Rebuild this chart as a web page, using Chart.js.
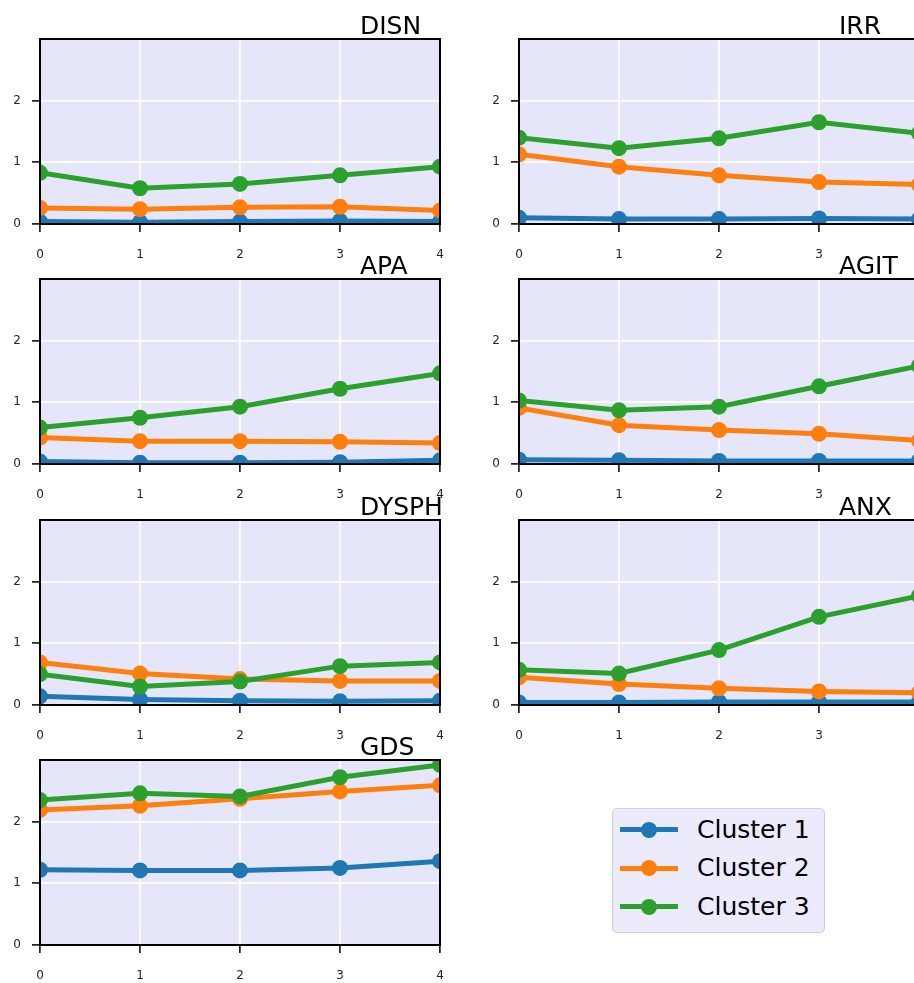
<!DOCTYPE html>
<html>
<head>
<meta charset="utf-8">
<script src="https://cdn.jsdelivr.net/npm/chart.js@4.4.1/dist/chart.umd.min.js"></script>
<style>
html,body{margin:0;padding:0;background:#fff;overflow:hidden;width:914px;height:983px;position:relative;}
canvas.panel{position:absolute;}
#legend{position:absolute;left:612px;top:808px;width:211px;height:123px;background:rgba(230,230,250,0.8);border:1.5px solid #d0d0d0;border-radius:5px;font-family:'DejaVu Sans',sans-serif;font-size:25px;color:#000;}
.item{position:absolute;left:7px;height:30px;display:flex;align-items:center;white-space:nowrap;}
.sw{position:relative;width:58px;height:5px;}
.dot{position:absolute;left:21px;top:-5.5px;width:16px;height:16px;border-radius:50%;}
.lbl{margin-left:19px;line-height:30px;}
</style>
</head>
<body>
<div id="legend"></div>
<script>
// ---- data ----
const xLabels = ['0', '1', '2', '3', '4'];
const yTickValues = [0, 1, 2];
const seriesNames = ['Cluster 1', 'Cluster 2', 'Cluster 3'];
const panelTitles = ['DISN', 'IRR', 'APA', 'AGIT', 'DYSPH', 'ANX', 'GDS'];

const DISN  = [[0.04, 0.03, 0.04, 0.05, 0.04], [0.26, 0.24, 0.27, 0.28, 0.22], [0.83, 0.58, 0.65, 0.79, 0.93]];
const IRR   = [[0.10, 0.08, 0.08, 0.09, 0.08], [1.13, 0.93, 0.79, 0.68, 0.64], [1.40, 1.23, 1.39, 1.65, 1.47]];
const APA   = [[0.04, 0.02, 0.02, 0.03, 0.06], [0.43, 0.37, 0.37, 0.36, 0.34], [0.59, 0.75, 0.93, 1.22, 1.47]];
const AGIT  = [[0.07, 0.06, 0.05, 0.05, 0.05], [0.91, 0.63, 0.55, 0.49, 0.38], [1.03, 0.87, 0.93, 1.26, 1.59]];
const DYSPH = [[0.14, 0.09, 0.07, 0.06, 0.07], [0.69, 0.51, 0.42, 0.39, 0.39], [0.50, 0.30, 0.38, 0.63, 0.69]];
const ANX   = [[0.04, 0.04, 0.05, 0.05, 0.05], [0.45, 0.34, 0.27, 0.22, 0.20], [0.57, 0.51, 0.89, 1.43, 1.77]];
const GDS   = [[1.22, 1.21, 1.21, 1.25, 1.36], [2.19, 2.26, 2.37, 2.49, 2.59], [2.35, 2.46, 2.41, 2.72, 2.92]];
const panelData = [DISN, IRR, APA, AGIT, DYSPH, ANX, GDS];

// ---- style / layout ----
const seriesColors = ['#1f77b4', '#ff7f0e', '#2ca02c'];
const colLefts = [40, 519];
const rowTops = [39, 279, 520, 760];
const PLOT_W = 400, PLOT_H = 185, PAD_L = 40, PAD_T = 40, PAD_R = 12, PAD_B = 45;

Chart.defaults.font.family = "'DejaVu Sans', sans-serif";

const panelDeco = {
  id: 'panelDeco',
  beforeDraw(chart) {
    const {ctx, chartArea: a} = chart;
    ctx.save();
    ctx.fillStyle = '#E6E6FA';
    ctx.fillRect(a.left, a.top, a.right - a.left, a.bottom - a.top);
    ctx.restore();
  },
  afterDatasetsDraw(chart) {
    const {ctx, chartArea: a} = chart;
    ctx.save();
    ctx.strokeStyle = '#000';
    ctx.lineWidth = 2;
    ctx.strokeRect(a.left, a.top, a.right - a.left, a.bottom - a.top);
    ctx.restore();
  },
  afterDraw(chart) {
    const {ctx, chartArea: a} = chart;
    const t = chart.options.plugins.panelDeco.text;
    ctx.save();
    ctx.fillStyle = '#000';
    ctx.font = "25px 'DejaVu Sans', sans-serif";
    ctx.textAlign = 'left';
    ctx.textBaseline = 'alphabetic';
    ctx.fillText(t, a.left + 0.8 * (a.right - a.left), a.top - 5);
    ctx.restore();
  }
};

const gridOpts = {color: '#ffffff', lineWidth: 1.8, tickColor: '#000', tickLength: 8, tickWidth: 1.5, drawTicks: true};

panelTitles.forEach((title, i) => {
  const col = i % 2, row = Math.floor(i / 2);
  const cv = document.createElement('canvas');
  cv.className = 'panel';
  const w = PAD_L + PLOT_W + PAD_R, h = PAD_T + PLOT_H + PAD_B;
  cv.width = w; cv.height = h;
  cv.style.width = w + 'px'; cv.style.height = h + 'px';
  cv.style.left = (colLefts[col] - PAD_L) + 'px';
  cv.style.top = (rowTops[row] - PAD_T) + 'px';
  document.body.appendChild(cv);

  const datasets = panelData[i].map((vals, k) => ({
    label: seriesNames[k],
    data: vals,
    borderColor: seriesColors[k],
    backgroundColor: seriesColors[k],
    pointBackgroundColor: seriesColors[k],
    pointBorderWidth: 0,
    pointRadius: 8,
    borderWidth: 5,
    tension: 0,
    fill: false,
    clip: 0,
    order: 2 - k
  }));

  new Chart(cv, {
    type: 'line',
    data: {labels: xLabels, datasets},
    options: {
      responsive: false,
      animation: false,
      events: [],
      layout: {padding: {left: 0, top: PAD_T, right: PAD_R, bottom: 0}},
      plugins: {legend: {display: false}, tooltip: {enabled: false}, panelDeco: {text: title}},
      scales: {
        x: {
          type: 'category', offset: false,
          grid: gridOpts, border: {display: false},
          ticks: {font: {size: 12}, color: '#262626', padding: 16, maxRotation: 0, autoSkip: false},
          afterFit(s) { s.height = PAD_B; s.paddingLeft = 0; s.paddingRight = 0; }
        },
        y: {
          min: 0, max: 3,
          grid: gridOpts, border: {display: false},
          ticks: {font: {size: 12}, color: '#262626', padding: 11},
          afterBuildTicks(s) { s.ticks = yTickValues.map(v => ({value: v})); },
          afterFit(s) { s.width = PAD_L; s.paddingTop = 0; s.paddingBottom = 0; }
        }
      }
    },
    plugins: [panelDeco]
  });
});

// legend
const leg = document.getElementById('legend');
const itemTops = [5.5, 44, 82.5];
seriesNames.forEach((name, k) => {
  const it = document.createElement('div');
  it.className = 'item';
  it.style.top = itemTops[k] + 'px';
  const sw = document.createElement('div');
  sw.className = 'sw';
  sw.style.background = seriesColors[k];
  const dot = document.createElement('div');
  dot.className = 'dot';
  dot.style.background = seriesColors[k];
  sw.appendChild(dot);
  const lb = document.createElement('span');
  lb.className = 'lbl';
  lb.textContent = name;
  it.appendChild(sw); it.appendChild(lb);
  leg.appendChild(it);
});
</script>
</body>
</html>
